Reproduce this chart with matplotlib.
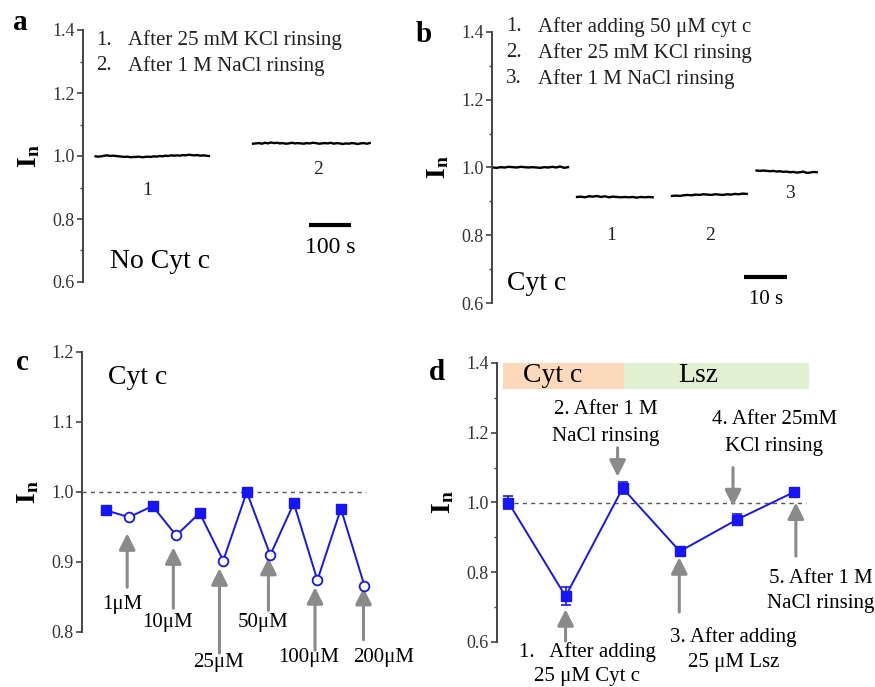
import numpy as np
import matplotlib
matplotlib.use('Agg')
import matplotlib.pyplot as plt
from matplotlib.ticker import MultipleLocator

plt.rcParams['font.family'] = ['Liberation Serif', 'DejaVu Serif']
plt.rcParams['mathtext.fontset'] = 'custom'
plt.rcParams['mathtext.rm'] = 'Liberation Serif'
plt.rcParams['mathtext.bf'] = 'Liberation Serif:bold'
plt.rcParams['mathtext.it'] = 'Liberation Serif:italic'

# ---------------- data ----------------
# panel a: normalized current traces without cyt c (time in s)
a_span1 = (30, 300)
a_trace1 = [0.999, 0.998, 0.999, 1.001, 1.002, 1.000, 1.001, 1.000, 0.999, 0.998,
            0.997, 0.998, 0.996, 0.997, 0.997, 0.998, 0.996, 0.997, 0.998, 0.997,
            0.999, 0.998, 1.000, 0.999, 1.001, 1.000, 1.002, 1.001, 1.002, 1.001,
            1.003, 1.002, 1.004, 1.003, 1.002, 1.003, 1.001, 1.002, 1.001, 1.000]
a_span2 = (405, 683)
a_trace2 = [1.039, 1.040, 1.041, 1.039, 1.042, 1.040, 1.043, 1.041, 1.042, 1.040,
            1.041, 1.039, 1.040, 1.042, 1.040, 1.041, 1.040, 1.039, 1.041, 1.040,
            1.042, 1.041, 1.039, 1.040, 1.041, 1.040, 1.042, 1.039, 1.041, 1.040,
            1.038, 1.040, 1.039, 1.041, 1.040, 1.038, 1.040, 1.041, 1.039, 1.041]
a_steps = ["1.", "2."]
a_notes = ["After 25 mM KCl rinsing", "After 1 M NaCl rinsing"]

# panel b: traces with cyt c (time in s)
b_spans = [(0.2, 17.7), (19.8, 37.4), (41.9, 59.3), (61.6, 75.6)]
b_traces = [
    [1.000, 0.999, 1.001, 1.000, 1.002, 1.001, 1.000, 1.002, 1.001, 1.000,
     1.001, 1.000, 0.999, 1.001, 1.000, 1.002, 1.000, 1.003, 0.999, 1.001],
    [0.913, 0.914, 0.912, 0.915, 0.914, 0.916, 0.913, 0.915, 0.912, 0.914,
     0.913, 0.912, 0.913, 0.912, 0.913, 0.911, 0.913, 0.912, 0.913, 0.912],
    [0.916, 0.917, 0.916, 0.918, 0.919, 0.918, 0.920, 0.919, 0.921, 0.920,
     0.919, 0.921, 0.920, 0.919, 0.921, 0.920, 0.922, 0.921, 0.923, 0.922],
    [0.991, 0.990, 0.991, 0.990, 0.989, 0.990, 0.988, 0.989, 0.987, 0.988,
     0.986, 0.987, 0.985, 0.986, 0.988, 0.984, 0.985, 0.987, 0.986]]
b_steps = ["1.", "2.", "3."]
b_notes = ["After adding 50 \u03bcM cyt c", "After 25 mM KCl rinsing", "After 1 M NaCl rinsing"]

# panel c: alternating rinsed (filled) / loaded (open) states
c_rinsed = [0.974, 0.980, 0.970, 1.000, 0.984, 0.976]
c_loaded = [0.964, 0.938, 0.902, 0.910, 0.874, 0.866]
c_conc = ["1\u03bcM", "10\u03bcM", "25\u03bcM", "50\u03bcM", "100\u03bcM", "200\u03bcM"]

# panel d: cyt c / lysozyme sequence
d_values = [1.000, 0.731, 1.041, 0.860, 0.951, 1.030]
d_errors = [0.020, 0.026, 0.018, 0.006, 0.015, 0.006]

# ---------------- styling ----------------
BLUE = '#1515f5'
ARROW = '#8a8a8a'
SPINE = '#444444'
TXT = 15
YLAB = r'$\mathbf{I}_{\mathbf{n}}$'

fig = plt.figure(figsize=(8.75, 6.87), dpi=100)
W, H = 875.0, 687.0


def axes_px(l, t, r, b):
    return fig.add_axes([l / W, 1 - b / H, (r - l) / W, (b - t) / H])


def style_left(ax, major, minor=None):
    for s in ['top', 'right', 'bottom']:
        ax.spines[s].set_visible(False)
    ax.spines['left'].set_color(SPINE)
    ax.spines['left'].set_linewidth(1.4)
    ax.set_xticks([])
    ax.yaxis.set_major_locator(MultipleLocator(major))
    if minor:
        ax.yaxis.set_minor_locator(MultipleLocator(minor))
    ax.tick_params(axis='y', which='major', length=4, width=1.2, color=SPINE,
                   labelsize=13, labelcolor='#333333', pad=2)
    ax.tick_params(axis='y', which='minor', length=2.5, width=1.0, color=SPINE)
    ax.patch.set_alpha(0)


def arrow(ax, x, y0, y1):
    ax.annotate('', xy=(x, y1), xytext=(x, y0),
                arrowprops=dict(arrowstyle='-|>,head_length=0.7,head_width=0.35',
                                color=ARROW, lw=2.2, shrinkA=0, shrinkB=0,
                                mutation_scale=14),
                annotation_clip=False)


# ---------------- panel a ----------------
ax = axes_px(83, 30, 402, 282)
style_left(ax, 0.2, 0.1)
ax.set_xlim(0, 760)
ax.set_ylim(0.6, 1.4)
for span, tr in [(a_span1, a_trace1), (a_span2, a_trace2)]:
    ax.plot(np.linspace(span[0], span[1], len(tr)), tr, color='black', lw=1.7)
for i, (s, n) in enumerate(zip(a_steps, a_notes)):
    y = 1.368 - i * 0.082
    ax.text(31, y, s, fontsize=TXT, va='center', ha='left', color='#222222')
    ax.text(107, y, n, fontsize=TXT, va='center', ha='left', color='#222222')
ax.text(152, 0.892, '1', fontsize=TXT - 1, ha='center', va='center', color='#222222')
ax.text(560, 0.956, '2', fontsize=TXT - 1, ha='center', va='center', color='#222222')
ax.plot([538, 638], [0.781, 0.781], color='black', lw=3, solid_capstyle='butt')
ax.text(588, 0.708, '100 s', fontsize=17, ha='center', va='center')
ax.text(64, 0.665, 'No Cyt c', fontsize=20, ha='left', va='center')
ax.set_ylabel(YLAB, fontsize=20, labelpad=7)

# ---------------- panel b ----------------
ax = axes_px(492, 32, 827, 303)
style_left(ax, 0.2, 0.1)
ax.set_xlim(0, 78)
ax.set_ylim(0.6, 1.4)
for span, tr in zip(b_spans, b_traces):
    ax.plot(np.linspace(span[0], span[1], len(tr)), tr, color='black', lw=1.7)
for i, (s, n) in enumerate(zip(b_steps, b_notes)):
    y = 1.415 - i * 0.0765
    ax.text(3.3, y, s, fontsize=TXT, va='center', ha='left', color='#222222')
    ax.text(10.7, y, n, fontsize=TXT, va='center', ha='left', color='#222222')
ax.text(27.7, 0.80, '1', fontsize=TXT - 1, ha='center', va='center', color='#222222')
ax.text(50.7, 0.80, '2', fontsize=TXT - 1, ha='center', va='center', color='#222222')
ax.text(69.3, 0.924, '3', fontsize=TXT - 1, ha='center', va='center', color='#222222')
ax.plot([58.6, 68.6], [0.676, 0.676], color='black', lw=3, solid_capstyle='butt')
ax.text(63.7, 0.609, '10 s', fontsize=15, ha='center', va='center')
ax.text(3.5, 0.658, 'Cyt c', fontsize=20, ha='left', va='center')
ax.set_ylabel(YLAB, fontsize=20, labelpad=7)

# ---------------- panel c ----------------
ax = axes_px(82, 352, 388, 632)
style_left(ax, 0.1)
ax.set_xlim(-1, 12)
ax.set_ylim(0.8, 1.2)
c_all = [v for pair in zip(c_rinsed, c_loaded) for v in pair]
xi = np.arange(len(c_all))
ax.axhline(1.0, xmin=0.0, xmax=(11.05 + 1) / 13, color='#555555', lw=1.0, ls=(0, (3, 3)))
ax.plot(xi, c_all, color=BLUE, lw=1.4, zorder=3)
ax.plot(xi[0::2], c_rinsed, 's', color=BLUE, ms=6.5, zorder=4)
ax.plot(xi[1::2], c_loaded, 'o', mfc='white', mec=BLUE, mew=1.3, ms=7, zorder=4)
c_arrow_x = [0.92, 2.88, 4.84, 6.92, 8.9, 10.96]
c_arrow_tail = [0.864, 0.834, 0.770, 0.831, 0.774, 0.789]
c_arrow_tip = [0.941, 0.921, 0.891, 0.906, 0.864, 0.863]
c_lab_x = [0.72, 2.63, 4.8, 6.71, 8.62, 11.8]
c_lab_y = [0.839, 0.813, 0.757, 0.814, 0.764, 0.764]
for x, t0, t1 in zip(c_arrow_x, c_arrow_tail, c_arrow_tip):
    arrow(ax, x, t0, t1)
for x, y, s in zip(c_lab_x, c_lab_y, c_conc):
    ax.text(x, y, s, fontsize=TXT, ha='center', va='center', clip_on=False)
ax.text(0.1, 1.164, 'Cyt c', fontsize=20, ha='left', va='center')
ax.set_ylabel(YLAB, fontsize=20, labelpad=7)

# ---------------- panel d ----------------
ax = axes_px(497, 363, 817, 642)
style_left(ax, 0.2, 0.1)
ax.set_xlim(-0.2, 5.4)
ax.set_ylim(0.6, 1.4)
xd = np.arange(len(d_values))
ax.axhspan(1.326, 1.4, xmin=(-0.1 + 0.2) / 5.6, xmax=(2.03 + 0.2) / 5.6,
           color='#fcd9ba', lw=0)
ax.axhspan(1.326, 1.4, xmin=(2.03 + 0.2) / 5.6, xmax=(5.26 + 0.2) / 5.6,
           color='#e0f0d0', lw=0)
ax.text(0.77, 1.363, 'Cyt c', fontsize=20, ha='center', va='center')
ax.text(3.32, 1.363, 'Lsz', fontsize=20, ha='center', va='center')
ax.axhline(1.0, xmin=(0.1 + 0.2) / 5.6, xmax=(5.2 + 0.2) / 5.6,
           color='#555555', lw=1.0, ls=(0, (3, 3)))
ax.errorbar(xd, d_values, yerr=d_errors, color=BLUE, lw=1.4, marker='s', ms=6.5,
            capsize=3.5, elinewidth=1.2, capthick=1.2, zorder=4)
# step annotations
arrow(ax, 1.91, 1.157, 1.074)
arrow(ax, 3.93, 1.10, 0.989)
arrow(ax, 1.0, 0.603, 0.694)
arrow(ax, 2.99, 0.686, 0.843)
arrow(ax, 5.03, 0.846, 1.0)
ax.text(1.70, 1.266, '2. After 1 M', fontsize=TXT, ha='center', va='center')
ax.text(1.70, 1.189, 'NaCl rinsing', fontsize=TXT, ha='center', va='center')
ax.text(4.65, 1.237, '4. After 25mM', fontsize=TXT, ha='center', va='center')
ax.text(4.65, 1.160, 'KCl rinsing', fontsize=TXT, ha='center', va='center')
ax.text(0.18, 0.571, '1.   After adding', fontsize=TXT, ha='left', va='center', clip_on=False)
ax.text(0.44, 0.500, '25 \u03bcM Cyt c', fontsize=TXT, ha='left', va='center', clip_on=False)
ax.text(3.94, 0.614, '3. After adding', fontsize=TXT, ha='center', va='center')
ax.text(3.94, 0.540, '25 \u03bcM Lsz', fontsize=TXT, ha='center', va='center', clip_on=False)
ax.text(5.46, 0.783, '5. After 1 M', fontsize=TXT, ha='center', va='center', clip_on=False)
ax.text(5.46, 0.709, 'NaCl rinsing', fontsize=TXT, ha='center', va='center', clip_on=False)
ax.set_ylabel(YLAB, fontsize=20, labelpad=7)

# panel letters
for s, x, y in [('a', 20, 22), ('b', 424, 35), ('c', 22, 362), ('d', 437, 372)]:
    fig.text(x / W, 1 - y / H, s, fontsize=21, fontweight='bold', ha='center', va='center')

fig.savefig('out.png', dpi=100)
